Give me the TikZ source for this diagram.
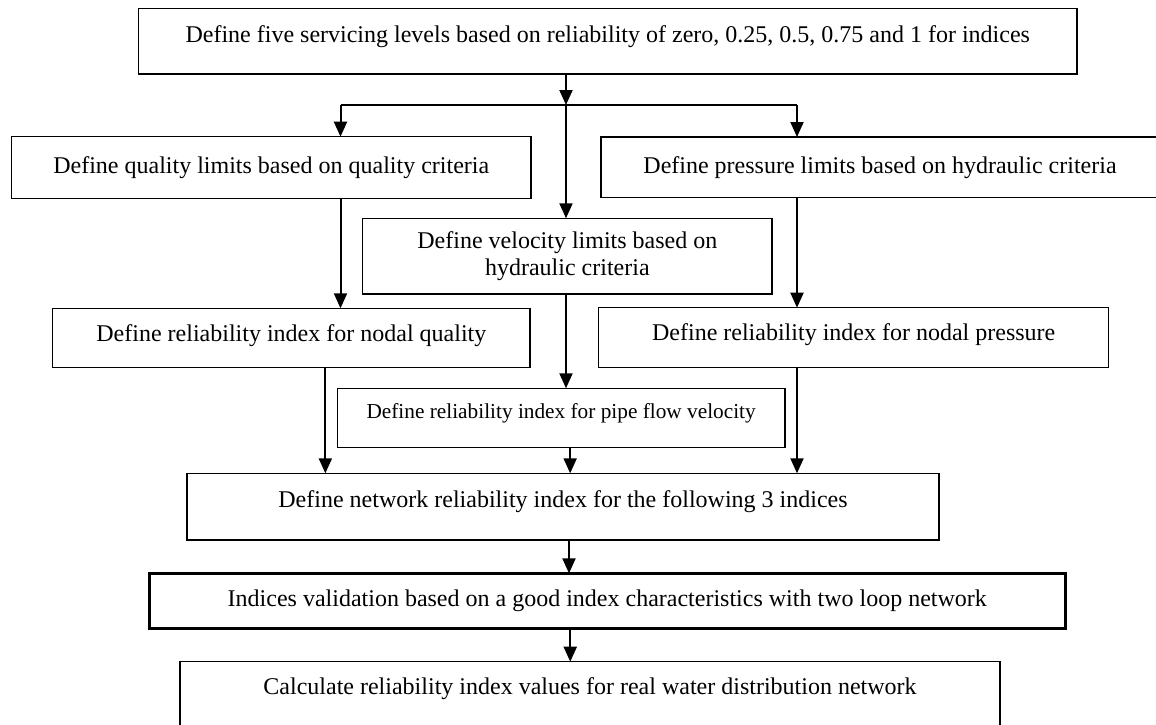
\documentclass[tikz,border=0pt]{standalone}
\usepackage{fontspec}
\setmainfont{Liberation Serif}
\usetikzlibrary{arrows.meta}

\begin{document}
\begin{tikzpicture}[x=1pt, y=-1pt,
  box/.style={draw, line width=1.2pt, inner sep=0pt, outer sep=0pt, align=center,
    font=\fontsize{24}{27}\selectfont},
  oneline/.style={text height=17pt, text depth=#1},
  oneline/.default=5pt,
  arr/.style={line width=2pt, -{Triangle[length=15pt,width=13pt]}}]
\clip (0,0) rectangle (1156,724);
\useasboundingbox (0,0) rectangle (1156,724);
\node[box, oneline=15pt, minimum width=938.5pt, minimum height=65.7pt] (top) at (607.75,41.15) {Define five servicing levels based on reliability of zero, 0.25, 0.5, 0.75 and 1 for indices};
\coordinate (split) at (566,105);
\coordinate (qsplit) at (340.5,105);
\coordinate (psplit) at (797,105);
\node[box, oneline, minimum width=519.5pt, minimum height=61.6pt] (quality) at (271.25,167.5) {Define quality limits based on quality criteria};
\node[box, oneline, minimum width=558pt, minimum height=60.5pt] (pressure) at (880,167.25) {Define pressure limits based on hydraulic criteria};
\node[box, minimum width=409.3pt, minimum height=75.7pt] (velocity) at (567.35,256.15) {Define velocity limits based on\\hydraulic criteria};
\node[box, oneline=11pt, minimum width=477.3pt, minimum height=59.4pt] (relq) at (291.35,338) {Define reliability index for nodal quality};
\node[box, oneline=11pt, minimum width=510pt, minimum height=60pt] (relp) at (853.7,337.7) {Define reliability index for nodal pressure};
\node[box, text height=15pt, text depth=14pt, font=\fontsize{21.3}{25}\selectfont, minimum width=447.7pt, minimum height=59pt] (pipe) at (561.15,417.8) {Define reliability index for pipe flow velocity};
\node[box, oneline=16pt, minimum width=752pt, minimum height=66.7pt] (net) at (563,506.65) {Define network reliability index for the following 3 indices};
\node[box, oneline, line width=3.5pt, minimum width=916pt, minimum height=55pt] (valid) at (607.25,600.85) {Indices validation based on a good index characteristics with two loop network};
\node[box, oneline=18pt, minimum width=820pt, minimum height=66.3pt] (calc) at (590,694.85) {Calculate reliability index values for real water distribution network};
% connectors
\draw[arr] (top.south -| split) -- (split);
\draw[line width=1.6pt] (qsplit) -- (psplit);
\draw[arr] (qsplit) -- (quality.north -| qsplit);
\draw[arr] (psplit) -- (pressure.north -| psplit);
\draw[arr] (split) -- (velocity.north -| split);
\draw[arr] (quality.south -| qsplit) -- (relq.north -| qsplit);
\draw[arr] (pressure.south -| psplit) -- (relp.north -| psplit);
\draw[arr] (velocity.south -| split) -- (pipe.north -| split);
\draw[arr] ([xshift=34pt]relq.south) -- ([xshift=34pt]relq.south |- net.north);
\draw[arr] ([xshift=9pt]pipe.south) -- ([xshift=9pt]pipe.south |- net.north);
\draw[arr] (relp.south -| psplit) -- (net.north -| psplit);
\draw[arr] ([xshift=6pt]net.south) -- ([xshift=6pt]net.south |- valid.north);
\draw[arr] ([xshift=-37pt]valid.south) -- ([xshift=-37pt]valid.south |- calc.north);
\end{tikzpicture}
\end{document}
